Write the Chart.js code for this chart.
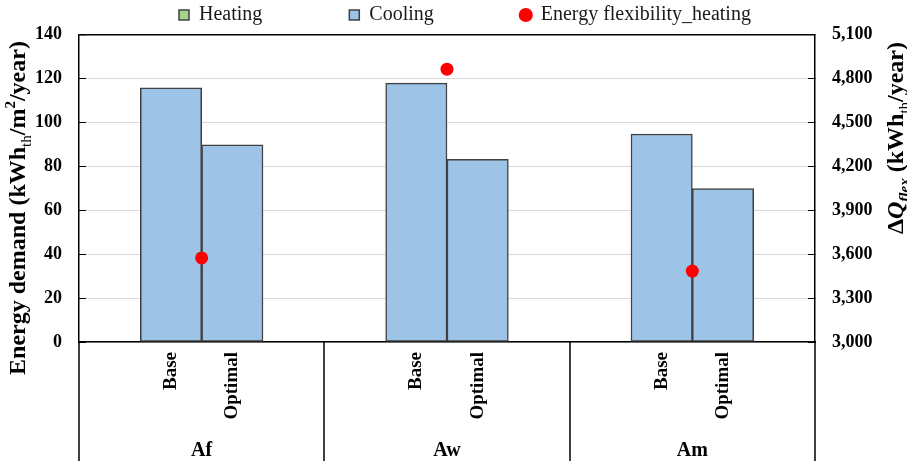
<!DOCTYPE html>
<html>
<head>
<meta charset="utf-8">
<script src="https://cdn.jsdelivr.net/npm/chart.js@4.4.1/dist/chart.umd.min.js"></script>
<style>
html,body{margin:0;padding:0;background:#fff}
#wrap{width:907px;height:461px;position:relative}
</style>
</head>
<body>
<div id="wrap"><canvas id="demandChart"></canvas></div>
<script>
// building cases and the two variants of each
const groups = ['Af', 'Aw', 'Am']
const variants = ['Base', 'Optimal']

// annual demand in kWh_th/m2/year, Base then Optimal for each case
const heating = [0, 0, 0, 0, 0, 0]
const cooling = [115.8, 89.8, 118.0, 83.3, 94.8, 69.9]

// energy flexibility for heating in kWh_th/year, one per case
const flexHeating = [3575, 4865, 3485]

// axis ticks
const demandTicks = [0, 20, 40, 60, 80, 100, 120, 140]
const flexTicks = [3000, 3300, 3600, 3900, 4200, 4500, 4800, 5100]

const SERIF = "'Liberation Serif', 'Times New Roman', serif"

// every case gets an empty slot on each side so the groups sit apart
const slotLabels = []
const heatingSlots = []
const coolingSlots = []
groups.forEach((g, gi) => {
  slotLabels.push('')
  heatingSlots.push(null)
  coolingSlots.push(null)
  variants.forEach((v, vi) => {
    slotLabels.push(v)
    heatingSlots.push(heating[gi * variants.length + vi])
    coolingSlots.push(cooling[gi * variants.length + vi])
  })
  slotLabels.push('')
  heatingSlots.push(null)
  coolingSlots.push(null)
})
const slotsPerGroup = variants.length + 2

// flexibility marker sits between Base and Optimal of its case
const flexPoints = groups.map((g, gi) => ({x: gi * slotsPerGroup + 2, y: flexHeating[gi]}))

function runFont(p, size) {
  const s = (p.sub || p.sup) ? Math.round(size * 0.62) : size
  return (p.italic ? 'italic ' : '') + (p.light ? '' : 'bold ') + s + 'px ' + SERIF
}

// rotated axis title with sub/superscripts, read bottom to top
function drawRotatedTitle(ctx, parts, baseX, centerY, size) {
  ctx.save()
  ctx.translate(baseX, centerY)
  ctx.rotate(-Math.PI / 2)
  ctx.textAlign = 'left'
  ctx.textBaseline = 'alphabetic'
  ctx.fillStyle = '#000'
  let total = 0
  parts.forEach(p => { ctx.font = runFont(p, size); total += ctx.measureText(p.t).width })
  let x = -total / 2
  parts.forEach(p => {
    ctx.font = runFont(p, size)
    const dy = p.sub ? size * 0.25 : p.sup ? -size * 0.4 : 0
    ctx.fillText(p.t, x, dy)
    x += ctx.measureText(p.t).width
  })
  ctx.restore()
}

const axisTitles = {
  id: 'axisTitles',
  afterDraw(chart) {
    const ctx = chart.ctx
    drawRotatedTitle(ctx, [
      {t: 'Energy demand (kWh'}, {t: 'th', sub: true, light: true},
      {t: '/m'}, {t: '2', sup: true}, {t: '/year)'}
    ], 25, 208, 24)
    drawRotatedTitle(ctx, [
      {t: '\u0394'}, {t: 'Q', italic: true}, {t: 'flex', italic: true, sub: true},
      {t: ' (kWh'}, {t: 'th', sub: true, light: true}, {t: '/year)'}
    ], 903, 138, 24)
  }
}

// case names under the variant labels, with divider lines between cases
const groupAxis = {
  id: 'groupAxis',
  afterDraw(chart) {
    const {ctx, chartArea} = chart
    const x = chart.scales.x
    ctx.save()
    ctx.strokeStyle = '#000'
    ctx.lineWidth = 1.5
    for (let g = 0; g <= groups.length; g++) {
      const px = Math.round(x.getPixelForValue(g * slotsPerGroup - 0.5))
      ctx.beginPath()
      ctx.moveTo(px, chartArea.bottom)
      ctx.lineTo(px, chart.height)
      ctx.stroke()
    }
    ctx.fillStyle = '#000'
    ctx.font = 'bold 20px ' + SERIF
    ctx.textAlign = 'center'
    ctx.textBaseline = 'middle'
    groups.forEach((g, gi) => {
      ctx.fillText(g, x.getPixelForValue(gi * slotsPerGroup + (slotsPerGroup - 1) / 2), 451)
    })
    ctx.restore()
  }
}

// legend items are spread wide; keep the row near the top edge
const legendRow = {
  id: 'legendRow',
  afterLayout(chart) {
    const lg = chart.legend
    const pad = lg.options.labels.padding
    lg.left = 179 - pad
    lg.top = 15 - pad - 10
  }
}

const barStyle = {
  borderColor: '#404040',
  borderWidth: 1.5,
  borderSkipped: false,
  pointStyle: 'rect',
  grouped: false,
  barPercentage: 1,
  categoryPercentage: 1,
  order: 1
}

new Chart(document.getElementById('demandChart'), {
  type: 'bar',
  data: {
    labels: slotLabels,
    datasets: [
      Object.assign({label: 'Heating', data: heatingSlots, backgroundColor: '#a9d18e'}, barStyle),
      Object.assign({label: 'Cooling', data: coolingSlots, backgroundColor: '#9dc3e6'}, barStyle),
      {
        type: 'scatter',
        label: 'Energy flexibility_heating',
        data: flexPoints,
        xAxisID: 'xp',
        yAxisID: 'y2',
        backgroundColor: '#ff0000',
        borderColor: '#ff0000',
        borderWidth: 0,
        pointRadius: 6.5,
        pointStyle: 'circle',
        order: 0
      }
    ]
  },
  options: {
    responsive: true,
    maintainAspectRatio: false,
    animation: false,
    layout: {padding: 0},
    plugins: {
      tooltip: {enabled: false},
      legend: {
        position: 'top',
        align: 'start',
        maxHeight: 33,
        labels: {
          usePointStyle: true,
          boxWidth: 10,
          boxHeight: 10,
          padding: 87,
          color: '#1a1a1a',
          font: {family: SERIF, size: 20},
          sort: (a, b) => a.datasetIndex - b.datasetIndex
        }
      }
    },
    scales: {
      x: {
        type: 'category',
        stacked: true,
        offset: true,
        grid: {display: false, drawTicks: false},
        border: {display: true, color: '#000', width: 1.5},
        ticks: {
          autoSkip: false,
          minRotation: 90,
          maxRotation: 90,
          padding: 10,
          color: '#000',
          font: {family: SERIF, size: 19, weight: 'bold'}
        },
        afterFit: s => { s.height = 119 }
      },
      xp: {
        type: 'linear',
        axis: 'x',
        display: false,
        offset: false,
        min: 0,
        max: slotLabels.length
      },
      y: {
        type: 'linear',
        position: 'left',
        stacked: true,
        min: demandTicks[0],
        max: demandTicks[demandTicks.length - 1],
        afterBuildTicks: s => { s.ticks = demandTicks.map(v => ({value: v})) },
        grid: {
          color: c => c.tick && c.tick.value === demandTicks[demandTicks.length - 1] ? '#000' : '#d9d9d9',
          lineWidth: c => c.tick && c.tick.value === demandTicks[demandTicks.length - 1] ? 1.5 : 1,
          tickColor: '#000',
          tickLength: -7,
          tickWidth: 1
        },
        border: {display: true, color: '#000', width: 1.5},
        ticks: {
          padding: 24,
          color: '#000',
          font: {family: SERIF, size: 18, weight: 'bold'}
        },
        afterFit: s => { s.width = 79 }
      },
      y2: {
        type: 'linear',
        position: 'right',
        min: flexTicks[0],
        max: flexTicks[flexTicks.length - 1],
        afterBuildTicks: s => { s.ticks = flexTicks.map(v => ({value: v})) },
        grid: {
          drawOnChartArea: false,
          tickColor: '#000',
          tickLength: -7,
          tickWidth: 1
        },
        border: {display: true, color: '#000', width: 1.5},
        ticks: {
          padding: 24,
          color: '#000',
          font: {family: SERIF, size: 18, weight: 'bold'},
          callback: v => v.toLocaleString('en-US')
        },
        afterFit: s => { s.width = 92 }
      }
    }
  },
  plugins: [axisTitles, groupAxis, legendRow]
})
</script>
</body>
</html>
